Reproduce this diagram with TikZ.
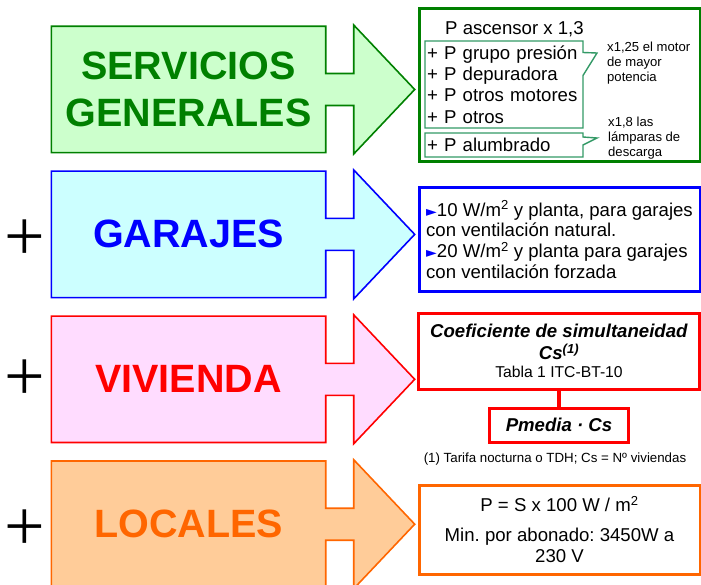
\documentclass[tikz,border=0pt]{standalone}
\usepackage[no-math]{fontspec}
\setmainfont{Liberation Sans}
\newfontfamily\plusfont{Liberation Serif}
\newfontfamily\symbfont{DejaVu Sans}
\usetikzlibrary{positioning, shapes.callouts, backgrounds}

\definecolor{servgreen}{HTML}{008000}
\definecolor{servfill}{HTML}{CCFFCC}
\definecolor{notegreen}{HTML}{339966}
\definecolor{garblue}{HTML}{0000FF}
\definecolor{garfill}{HTML}{CCFFFF}
\definecolor{vivred}{HTML}{FF0000}
\definecolor{vivfill}{HTML}{FFDCFF}
\definecolor{locorange}{HTML}{FF6600}
\definecolor{locfill}{HTML}{FFCC99}

\newcommand{\bul}{{\symbfont\fontsize{14}{14}\selectfont\color{garblue}►}}

\begin{document}
\frenchspacing
\begin{tikzpicture}[
    x=1pt, y=-1pt,
    node distance=18.5pt,
    arrowbody/.style={
        rectangle,
        minimum width=274pt,
        minimum height=126pt,
        inner sep=0pt,
        align=center,
        font=\fontsize{39.5}{47}\selectfont\bfseries
    },
    arrowline/.style={
        line width=1.6pt,
        line join=miter
    },
    plus/.style={
        inner sep=0pt,
        font=\plusfont\fontsize{72}{72}\selectfont
    },
    infobox/.style={
        rectangle,
        draw,
        line width=3pt,
        minimum width=281pt,
        inner sep=0pt,
        font=\fontsize{18.6}{20.7}\selectfont
    },
    note/.style={
        rectangle callout,
        draw=notegreen,
        line width=1.4pt,
        minimum width=158pt,
        inner xsep=2pt,
        inner ysep=0pt,
        text width=154pt,
        align=left,
        font=\fontsize{18.6}{21.3}\selectfont
    },
    sidenote/.style={
        inner sep=0pt,
        align=left,
        font=\fontsize{13.1}{15}\selectfont
    }
]
    \useasboundingbox (0,0) rectangle (701,585);

    % --- Arrows ---

    \node [arrowbody, text=servgreen] (servicios) at (188.5,89.5) {SERVICIOS\\GENERALES};
    \node [arrowbody, text=garblue, below=of servicios] (garajes) {GARAJES};
    \node [arrowbody, text=vivred, below=of garajes] (vivienda) {VIVIENDA};
    \node [arrowbody, text=locorange, below=of vivienda] (locales) {LOCALES};

    \begin{scope}[on background layer]
        \draw [arrowline, draw=servgreen, fill=servfill] (servicios.north west) -- (servicios.north east) -- ([yshift=16pt]servicios.east) -- ++(28,0) -- ++(0,-48.5) -- ++(61,64.5) -- ++(-61,64.5) -- ++(0,-48.5) -- ([yshift=-16pt]servicios.east) -- (servicios.south east) -- (servicios.south west) -- cycle;
        \draw [arrowline, draw=garblue, fill=garfill] (garajes.north west) -- (garajes.north east) -- ([yshift=16pt]garajes.east) -- ++(28,0) -- ++(0,-48.5) -- ++(61,64.5) -- ++(-61,64.5) -- ++(0,-48.5) -- ([yshift=-16pt]garajes.east) -- (garajes.south east) -- (garajes.south west) -- cycle;
        \draw [arrowline, draw=vivred, fill=vivfill] (vivienda.north west) -- (vivienda.north east) -- ([yshift=16pt]vivienda.east) -- ++(28,0) -- ++(0,-48.5) -- ++(61,64.5) -- ++(-61,64.5) -- ++(0,-48.5) -- ([yshift=-16pt]vivienda.east) -- (vivienda.south east) -- (vivienda.south west) -- cycle;
        \draw [arrowline, draw=locorange, fill=locfill] (locales.north west) -- (locales.north east) -- ([yshift=16pt]locales.east) -- ++(28,0) -- ++(0,-48.5) -- ++(61,64.5) -- ++(-61,64.5) -- ++(0,-48.5) -- ([yshift=-16pt]locales.east) -- (locales.south east) -- (locales.south west) -- cycle;
    \end{scope}

    % Plus signs
    \node [plus] (plus1) at (24.5,240.5) {+};
    \node [plus] (plus2) at (24.5,380.5) {+};
    \node [plus] (plus3) at (24.5,530) {+};

    % --- Servicios generales ---
    \node [infobox, draw=servgreen, minimum height=153pt] (servbox) at (559.5,85.5) {};
    \node [anchor=base west, inner sep=0pt, font=\fontsize{18.6}{20}\selectfont] (ascensor) at (445,35) {P ascensor x 1,3};
    \node [note, minimum height=87pt, callout absolute pointer={(597,53)}, callout pointer width=23pt] (grupo) at (504,84.5) {+ P grupo presión\\+ P depuradora\\+ P otros motores\\+ P otros};
    \node [note, minimum height=24pt, callout absolute pointer={(597,138)}, callout pointer width=8pt] (alumbrado) at (504,145) {+ P alumbrado};
    \node [sidenote, anchor=north west] (motor) at (607,42.3) {x1,25 el motor\\de mayor\\potencia};
    \node [sidenote, anchor=north west] (lamparas) at (608,117) {x1,8 las\\lámparas de\\descarga};

    % --- Garajes ---
    \node [infobox, draw=garblue, minimum height=103pt, align=left] (garbox) at (559.5,239.5) {\bul10 W/m\textsuperscript{2} y planta, para garajes\\con ventilación natural.\\\bul20 W/m\textsuperscript{2} y planta para garajes\\con ventilación forzada};

    % --- Vivienda ---
    \node [infobox, draw=vivred, minimum height=76pt, align=center, font=\fontsize{18.6}{22}\selectfont] (coef) at (559,351) {\textbf{\textit{Coeficiente de simultaneidad}}\\\textbf{\textit{Cs\textsuperscript{(1)}}}\\[-4pt]{\fontsize{15.7}{18}\selectfont Tabla 1 ITC-BT-10}};
    \node [infobox, draw=vivred, minimum width=139pt, minimum height=34pt, below=16pt of coef, font=\fontsize{18.6}{22}\selectfont\bfseries\itshape] (pmedia) {Pmedia · Cs};
    \node [anchor=base, inner sep=0pt, font=\fontsize{13.3}{15}\selectfont] (nota) at (555,462) {(1) Tarifa nocturna o TDH; Cs = Nº viviendas};

    \draw [line width=4pt, draw=vivred] (coef) -- (pmedia);

    % --- Locales ---
    \node [infobox, draw=locorange, minimum height=89pt, align=center] (locbox) at (559.5,529.5) {P = S x 100 W / m\textsuperscript{2}\\[9.5pt]Min. por abonado: 3450W a\\230 V};

\end{tikzpicture}
\end{document}
